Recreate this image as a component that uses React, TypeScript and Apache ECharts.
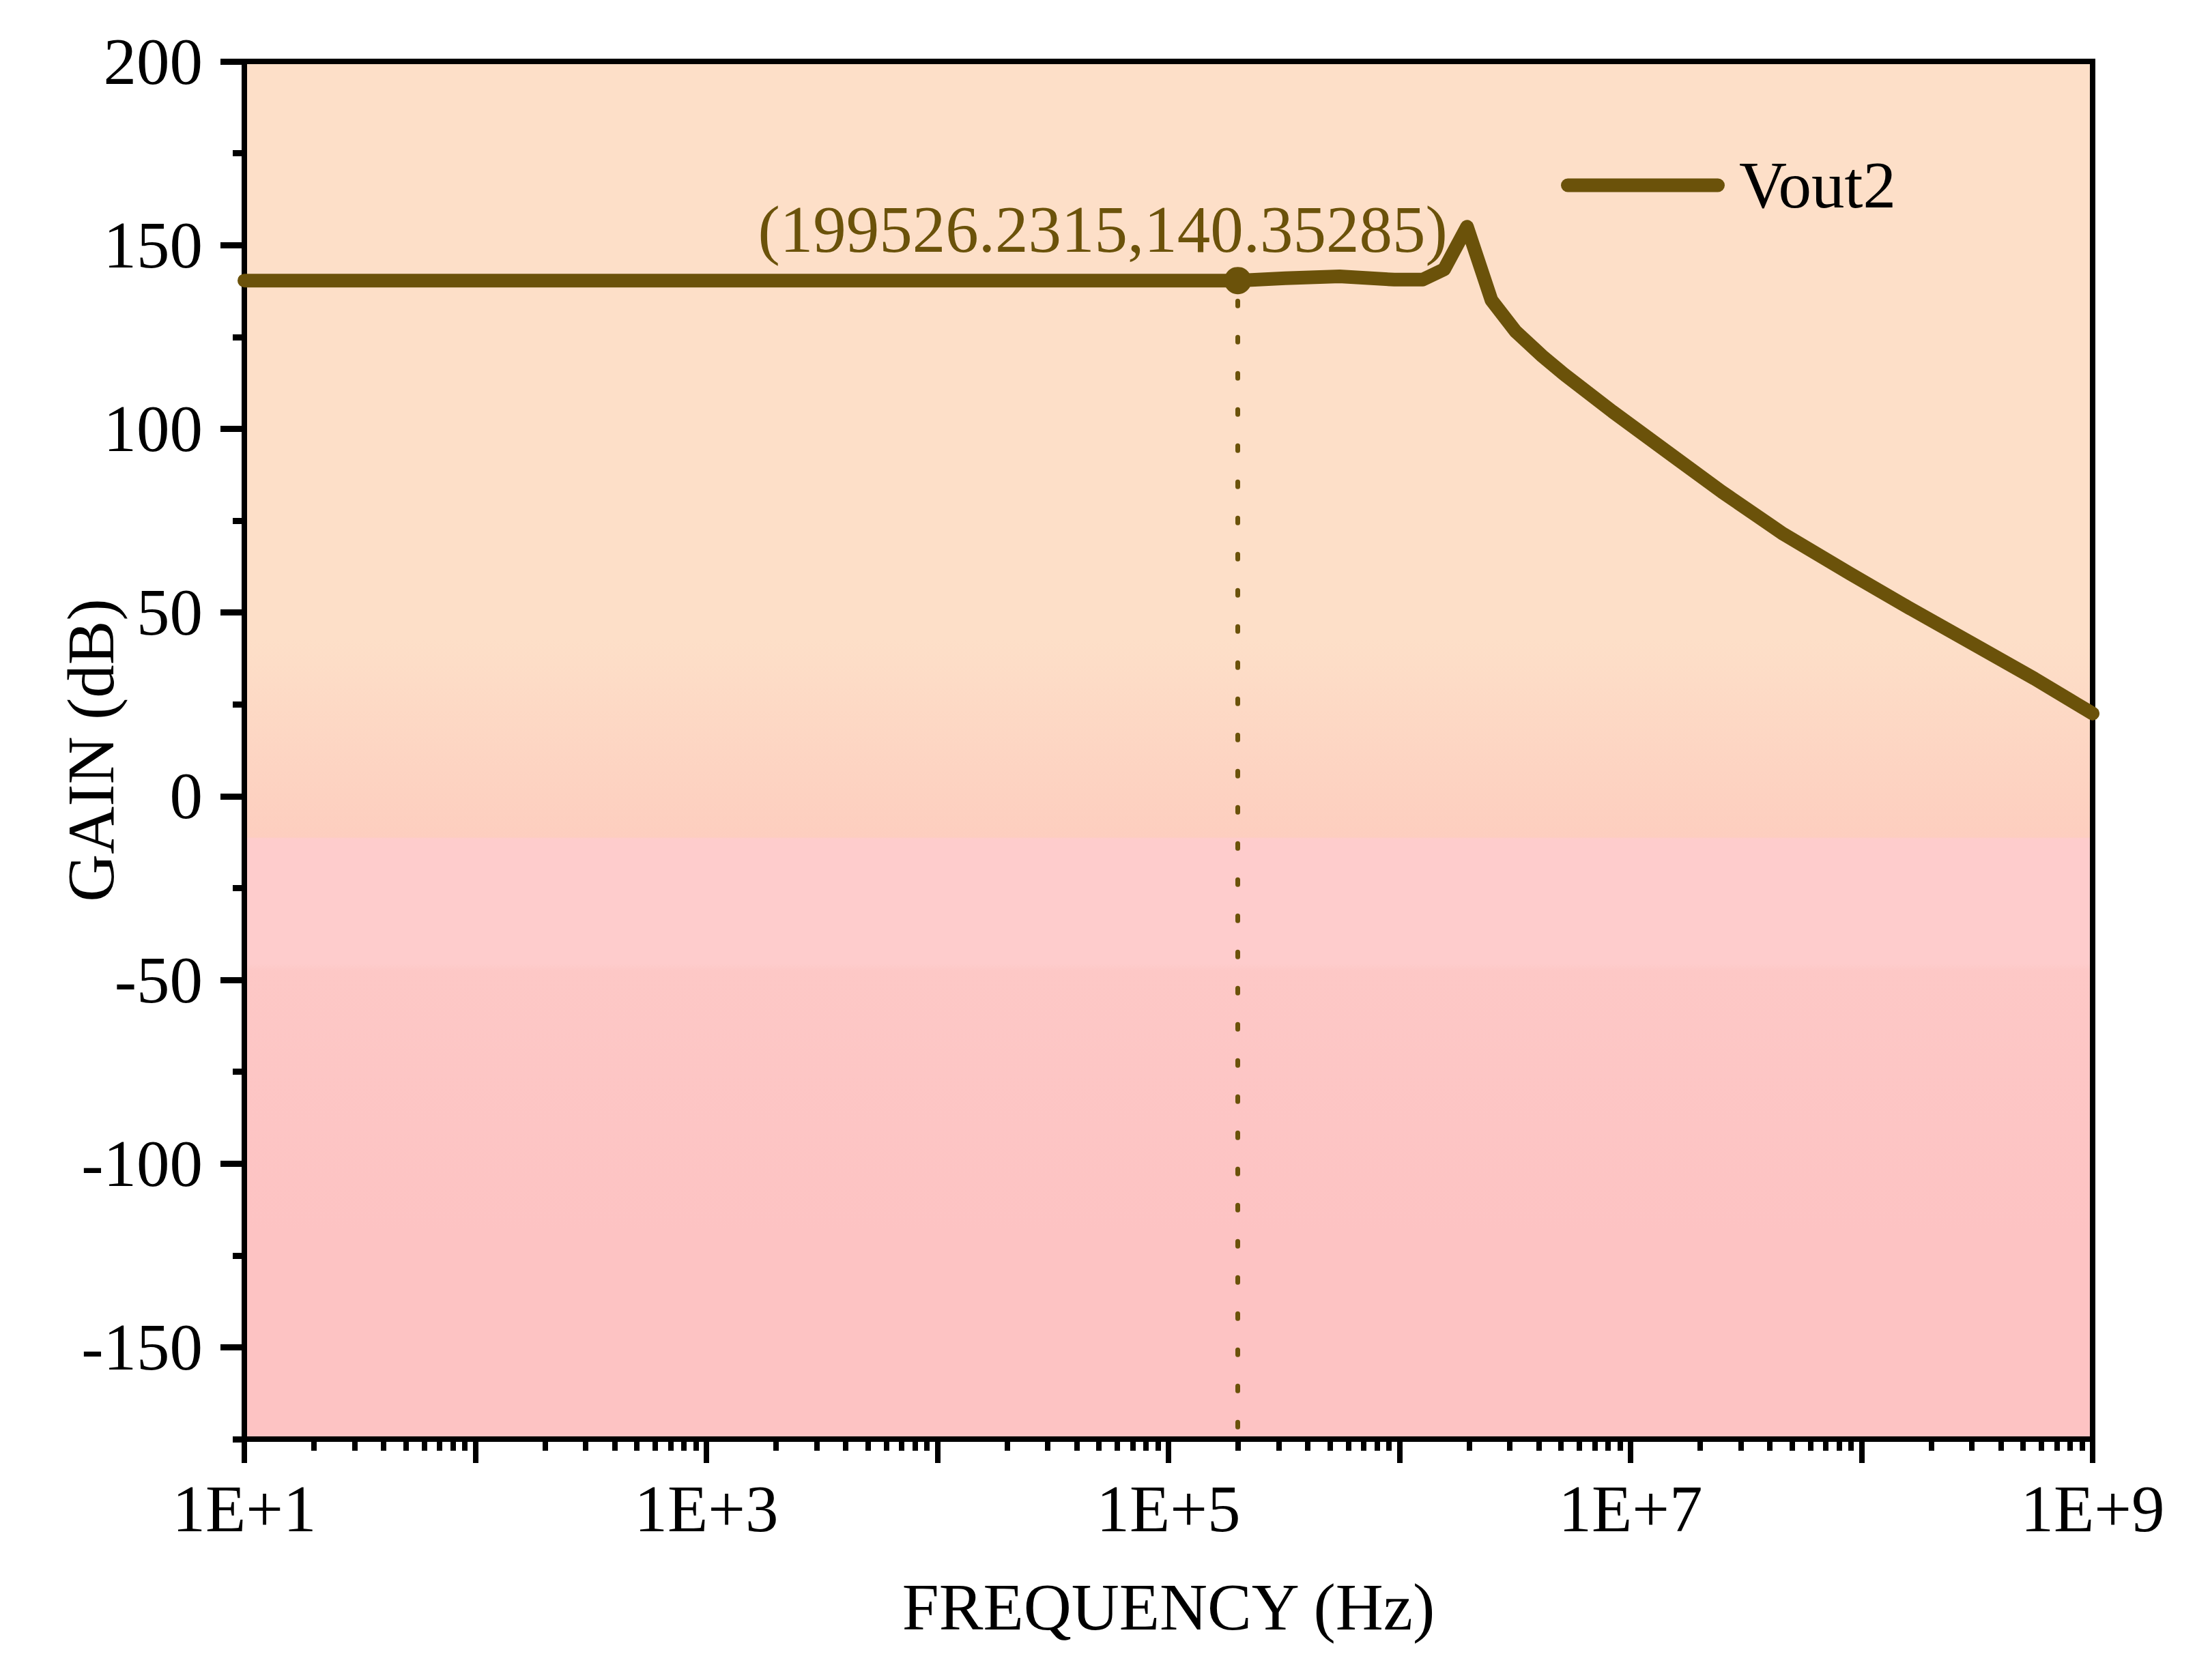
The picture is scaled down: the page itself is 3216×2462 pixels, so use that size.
import React, { useEffect, useRef } from "react";
import * as echarts from "echarts";

// frequency sweep (Hz / dB)
const freqHz = [
  10, 100, 1000, 10000, 100000, 199526.2315, 320000, 550000, 950000, 1260000,
  1560000, 1960000, 2500000, 3180000, 4150000, 5120000, 8350000, 15100000,
  24900000, 45800000, 89100000, 160000000, 321000000, 560000000, 1000000000,
];
const gainDb = [
  140.35, 140.35, 140.35, 140.35, 140.35, 140.35285, 141.0, 141.5, 140.6, 140.6,
  143.4, 155, 135, 126.5, 119.8, 115, 104.7, 92.8, 82.8, 71.4, 60.6, 51.3, 40.6,
  32.0, 22.5,
];

const markerFreq = 199526.2315;
const markerGain = 140.35285;

const yMajorTicks = [-150, -100, -50, 0, 50, 100, 150, 200];
const yMinorTicks = [-175, -125, -75, -25, 25, 75, 125, 175];
const xMajorTicks = [1e1, 1e2, 1e3, 1e4, 1e5, 1e6, 1e7, 1e8, 1e9];
const xLabelTicks = [1e1, 1e3, 1e5, 1e7, 1e9];
const xMinorMultipliers = [2, 3, 4, 5, 6, 7, 8, 9];

const X_MIN = 10;
const X_MAX = 1e9;
const Y_MIN = -175;
const Y_MAX = 200;

const LINE_COLOR = "#6B520A";
const FONT = "'Times New Roman', 'Liberation Serif', serif";
const FONT_SIZE = 97;

export default function App() {
  const chartRef = useRef<HTMLDivElement>(null);

  useEffect(() => {
    document.body.style.margin = "0";
    if (chartRef.current === null) return;
    const chart = echarts.init(chartRef.current, undefined, { renderer: "svg" });

    const xMinorTicks: number[] = [];
    xMajorTicks.slice(0, -1).forEach((d) => {
      xMinorMultipliers.forEach((m) => xMinorTicks.push(m * d));
    });

    const seriesData = freqHz.map((f, i) => [f, gainDb[i]]);

    const option: echarts.EChartsOption = {
      animation: false,
      backgroundColor: "#ffffff",
      grid: {
        left: 358,
        right: 150,
        top: 90,
        bottom: 353,
        show: true,
        borderColor: "#000",
        borderWidth: 8,
        backgroundColor: new echarts.graphic.LinearGradient(0, 0, 0, 1, [
          { offset: 0, color: "#FDDFC8" },
          { offset: 0.42, color: "#FDDFC8" },
          { offset: 0.563, color: "#FDCEBF" },
          { offset: 0.564, color: "#FECCCC" },
          { offset: 0.655, color: "#FECCCC" },
          { offset: 0.66, color: "#FDC8C6" },
          { offset: 0.85, color: "#FDC3C3" },
          { offset: 1, color: "#FDC3C3" },
        ]) as any,
      },
      legend: {
        data: [
          {
            name: "Vout2",
            icon: "path://M10,0 H230 A10,10 0 0 1 230,20 H10 A10,10 0 0 1 10,0 Z",
          },
        ],
        left: 2282,
        top: 218,
        itemWidth: 240,
        itemHeight: 20,
        itemStyle: { color: LINE_COLOR },
        textStyle: {
          color: "#000",
          fontSize: FONT_SIZE,
          fontFamily: FONT,
          padding: [0, 0, 0, 16],
        },
      },
      xAxis: [
        {
          type: "log",
          logBase: 10,
          min: X_MIN,
          max: X_MAX,
          position: "bottom",
          name: "FREQUENCY (Hz)",
          nameLocation: "middle",
          nameGap: 198,
          nameMoveOverlap: false,
          nameTextStyle: { color: "#000", fontSize: FONT_SIZE, fontFamily: FONT },
          axisLine: { show: true, onZero: false, lineStyle: { color: "#000", width: 8 } },
          axisTick: {
            show: true,
            inside: false,
            length: 35,
            lineStyle: { color: "#000", width: 8 },
            customValues: xMajorTicks,
          } as any,
          axisLabel: {
            color: "#000",
            fontSize: FONT_SIZE,
            fontFamily: FONT,
            margin: 54,
            customValues: xLabelTicks,
            formatter: (v: number) => "1E+" + Math.round(Math.log10(v)),
          } as any,
          splitLine: { show: false },
        } as any,
        {
          type: "log",
          logBase: 10,
          min: X_MIN,
          max: X_MAX,
          position: "bottom",
          axisLine: { show: false, onZero: false },
          axisTick: {
            show: true,
            inside: false,
            length: 17,
            lineStyle: { color: "#000", width: 8 },
            customValues: xMinorTicks,
          } as any,
          axisLabel: { show: false },
          splitLine: { show: false },
        },
      ],
      yAxis: [
        {
          type: "value",
          min: Y_MIN,
          max: Y_MAX,
          position: "left",
          name: "GAIN (dB)",
          nameLocation: "middle",
          nameGap: 176,
          nameMoveOverlap: false,
          nameTextStyle: { color: "#000", fontSize: FONT_SIZE, fontFamily: FONT },
          axisLine: { show: true, onZero: false, lineStyle: { color: "#000", width: 8 } },
          axisTick: {
            show: true,
            inside: false,
            length: 35,
            lineStyle: { color: "#000", width: 9 },
            customValues: yMajorTicks,
          } as any,
          axisLabel: {
            color: "#000",
            fontSize: FONT_SIZE,
            fontFamily: FONT,
            margin: 61,
            customValues: yMajorTicks,
          } as any,
          splitLine: { show: false },
        } as any,
        {
          type: "value",
          min: Y_MIN,
          max: Y_MAX,
          position: "left",
          axisLine: { show: false, onZero: false },
          axisTick: {
            show: true,
            inside: false,
            length: 17,
            lineStyle: { color: "#000", width: 9 },
            customValues: yMinorTicks,
          } as any,
          axisLabel: { show: false },
          splitLine: { show: false },
        },
      ],
      series: [
        {
          name: "Vout2",
          type: "line",
          xAxisIndex: 0,
          yAxisIndex: 0,
          data: seriesData,
          showSymbol: false,
          symbol: "none",
          smooth: false,
          itemStyle: { color: LINE_COLOR },
          lineStyle: { color: LINE_COLOR, width: 20, cap: "round", join: "round" },
          z: 2,
        },
        {
          name: "marker",
          type: "scatter",
          xAxisIndex: 0,
          yAxisIndex: 0,
          data: [[markerFreq, markerGain]],
          symbol: "circle",
          symbolSize: 40,
          itemStyle: { color: LINE_COLOR, opacity: 1 },
          z: 3,
          label: {
            show: true,
            position: "top",
            distance: 6,
            offset: [-198, 0],
            formatter: `(${markerFreq},${markerGain})`,
            color: LINE_COLOR,
            opacity: 1,
            fontSize: FONT_SIZE,
            fontFamily: FONT,
          },
          markLine: {
            silent: true,
            symbol: ["none", "none"],
            label: { show: false },
            lineStyle: {
              color: LINE_COLOR,
              width: 7,
              opacity: 1,
              type: [7, 46],
              cap: "round",
              dashOffset: -30,
            } as any,
            data: [
              [
                { coord: [markerFreq, markerGain] },
                { coord: [markerFreq, Y_MIN] },
              ],
            ] as any,
          },
        },
      ],
    };

    chart.setOption(option);

    return () => {
      chart.dispose();
    };
  }, []);

  return (
    <div
      ref={chartRef}
      style={{ position: "absolute", left: 0, top: 0, width: "3216px", height: "2462px" }}
    />
  );
}
